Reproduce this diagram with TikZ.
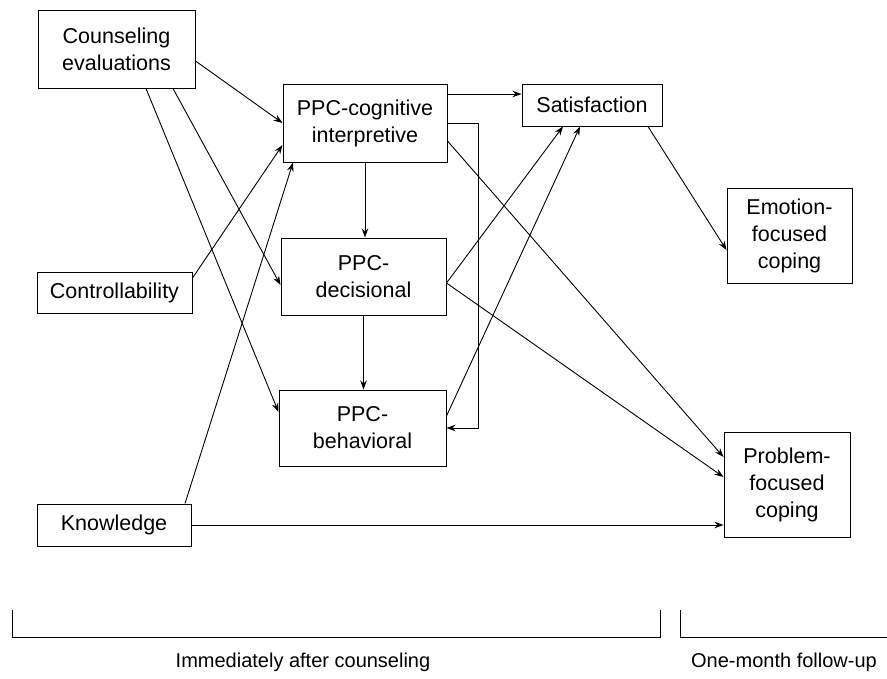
\documentclass[tikz,border=0pt]{standalone}
\usepackage{fontspec}
\setmainfont{Liberation Sans}
\usetikzlibrary{arrows.meta,calc}
\begin{document}
\begin{tikzpicture}[x=1pt,y=-1pt,
  box/.style={draw=black,line width=1pt,inner sep=0pt,align=center,
    font=\fontsize{21.5}{27}\selectfont},
  arr/.style={draw=black,line width=0.9pt,-{Stealth[length=9pt,width=6.5pt]}},
  lbl/.style={inner sep=0pt,font=\fontsize{20}{24}\selectfont}]
\useasboundingbox (0,0) rectangle (887,678);
\node[box,minimum width=157pt,minimum height=78pt] (ce) at (116.5,49) {Counseling\\evaluations};
\node[box,minimum width=164pt,minimum height=78pt] (cog) at (365,123) {PPC-cognitive\\interpretive};
\node[box,minimum width=140pt,minimum height=42pt] (sat) at (592,105) {Satisfaction};
\node[box,minimum width=125pt,minimum height=95pt] (emo) at (789.5,235.5) {Emotion-\\focused\\coping};
\node[box,minimum width=155pt,minimum height=41pt] (ctrl) at (114.5,292.5) {Controllability};
\node[box,minimum width=165pt,minimum height=77pt] (dec) at (363.5,276.5) {PPC-\\decisional};
\node[box,minimum width=167pt,minimum height=76pt] (beh) at (362.5,428) {PPC-\\behavioral};
\node[box,minimum width=154pt,minimum height=42pt] (know) at (114,525) {Knowledge};
\node[box,minimum width=126pt,minimum height=105pt] (prob) at (787,484.5) {Problem-\\focused\\coping};

\draw[arr] ([yshift=-12pt]ce.east) -- (cog.west);
\draw[arr] ([xshift=29.5pt]ce.south) -- ([yshift=16pt]beh.west);
\draw[arr] ([xshift=56.5pt]ce.south) -- ([yshift=-8.5pt]dec.west);
\draw[arr] ([yshift=14.5pt]ctrl.east) -- ([yshift=-22pt]cog.west);
\draw[arr] ([xshift=71pt]know.north) -- ([xshift=-72pt]cog.south);
\draw[arr] (cog.south) -- (cog.south |- dec.north);
\draw[arr] (dec.south) -- (dec.south |- beh.north);
\draw[arr] ([yshift=29pt]cog.east) -- ([yshift=29pt]cog.east -| sat.west);
\draw[arr] (cog.east) -- ++(31,0) |- (beh.east);
\draw[arr] ([yshift=-18pt]cog.east) -- ([yshift=27.5pt]prob.west);
\draw[arr] ([yshift=-6.5pt]dec.east) -- ([xshift=-29pt]sat.south);
\draw[arr] ([yshift=-6.5pt]dec.east) -- ([yshift=7.5pt]prob.west);
\draw[arr] ([yshift=12pt]beh.east) -- ([xshift=-12pt]sat.south);
\draw[arr] ([xshift=56pt]sat.south) -- ([yshift=-14.5pt]emo.west);
\draw[arr] (know.east) -- (know.east -| prob.west);

\draw[line width=0.9pt] (12,610) -- (12,637) -- (660,637) -- (660,610);
\draw[line width=0.9pt] (680,610) -- (680,637) -- (887,637);
\node[lbl] (t1) at (303,662) {Immediately after counseling};
\node[lbl] (t2) at (784,662) {One-month follow-up};
\end{tikzpicture}
\end{document}
